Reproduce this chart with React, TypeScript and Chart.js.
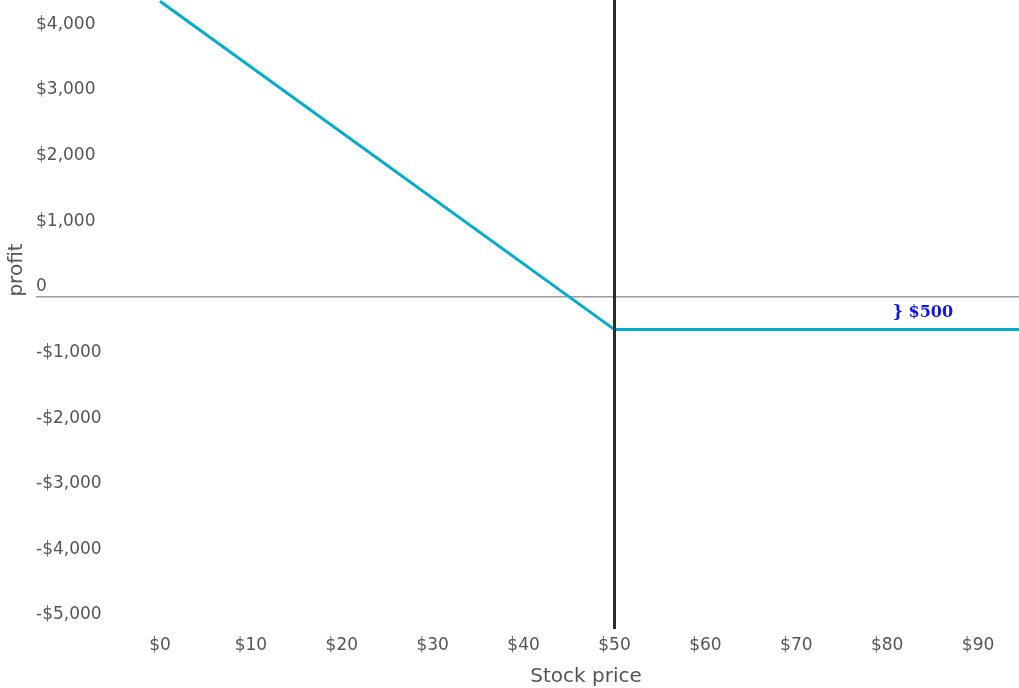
import React, { useEffect, useRef } from 'react';
import { Chart, registerables } from 'chart.js';

Chart.register(...registerables);

// ---- data ----
const STOCK_PRICES = [0, 50, 100];
const PROFIT = [4500, -500, -500];
const STRIKE = 50;
const PREMIUM = 500;
const PREMIUM_LABEL = '} $500';
const X_TICKS = [0, 10, 20, 30, 40, 50, 60, 70, 80, 90];
const Y_TICKS = [-5000, -4000, -3000, -2000, -1000, 0, 1000, 2000, 3000, 4000];
const X_TITLE = 'Stock price';
const Y_TITLE = 'profit';

// ---- scale limits ----
const X_MIN = -13.64;
const X_MAX = 94.5;
const Y_MIN = -5060;
const Y_MAX = 4520;

const TICK_FONT = { family: '"DejaVu Sans", sans-serif', size: 17 };
const TEXT_COLOR = '#555';

const fmtY = (v: number) =>
  v === 0 ? '0' : (v < 0 ? '-' : '') + '$' + Math.abs(v).toLocaleString('en-US');
const fmtX = (v: number) => '$' + v;

const overlayPlugin = {
  id: 'overlay',
  afterDraw(chart: any) {
    const { ctx, scales } = chart;
    ctx.save();
    // annotation
    ctx.font = 'bold 16px "DejaVu Serif", serif';
    ctx.fillStyle = '#1414f0';
    ctx.textAlign = 'left';
    ctx.textBaseline = 'middle';
    ctx.fillText(PREMIUM_LABEL, scales.x.getPixelForValue(80.6), scales.y.getPixelForValue(-PREMIUM / 2));
    // axis titles
    ctx.font = '20px "DejaVu Sans", sans-serif';
    ctx.fillStyle = TEXT_COLOR;
    ctx.textAlign = 'center';
    ctx.textBaseline = 'middle';
    ctx.fillText(X_TITLE, 586, 677);
    ctx.translate(17, 270);
    ctx.rotate(-Math.PI / 2);
    ctx.fillText(Y_TITLE, 0, 0);
    ctx.restore();
  },
};

export default function App() {
  const ref = useRef<HTMLCanvasElement>(null);
  useEffect(() => {
    document.body.style.margin = '0';
    const chart = new Chart(ref.current!, {
      type: 'line',
      data: {
        datasets: [
          {
            data: [
              { x: STRIKE, y: Y_MAX },
              { x: STRIKE, y: Y_MIN },
            ],
            borderColor: '#2b2b2b',
            borderWidth: 3,
            pointRadius: 0,
          },
          {
            data: STOCK_PRICES.map((x, i) => ({ x, y: PROFIT[i] })),
            borderColor: '#00adcc',
            borderWidth: 3,
            pointRadius: 0,
            tension: 0,
          },
        ],
      },
      options: {
        responsive: false,
        animation: false,
        parsing: false as any,
        layout: { padding: 0 },
        plugins: { legend: { display: false }, tooltip: { enabled: false } },
        scales: {
          x: {
            type: 'linear',
            min: X_MIN,
            max: X_MAX,
            border: { display: false },
            grid: { display: false, drawTicks: false },
            afterBuildTicks: (s: any) => {
              s.ticks = X_TICKS.map((value) => ({ value }));
            },
            afterFit: (s: any) => {
              s.height = 59;
              s.paddingLeft = 0;
              s.paddingRight = 0;
            },
            ticks: {
              autoSkip: false,
              maxRotation: 0,
              padding: 6,
              font: TICK_FONT,
              color: TEXT_COLOR,
              callback: (v: any) => fmtX(Number(v)),
            },
          },
          y: {
            type: 'linear',
            min: Y_MIN,
            max: Y_MAX,
            border: { display: false },
            grid: {
              drawTicks: false,
              color: (c: any) => (c.tick && c.tick.value === 0 ? '#9e9e9e' : 'rgba(0,0,0,0)'),
              lineWidth: 1.5,
            },
            afterBuildTicks: (s: any) => {
              s.ticks = Y_TICKS.map((value) => ({ value }));
            },
            afterFit: (s: any) => {
              s.width = 36;
              s.paddingTop = 0;
              s.paddingBottom = 0;
            },
            ticks: {
              mirror: true,
              padding: 0,
              labelOffset: -10,
              autoSkip: false,
              font: TICK_FONT,
              color: TEXT_COLOR,
              callback: (v: any) => fmtY(Number(v)),
            },
          },
        },
      },
      plugins: [overlayPlugin],
    });
    return () => chart.destroy();
  }, []);
  return (
    <div style={{ position: 'fixed', left: 0, top: 0, width: 1019, height: 688 }}>
      <canvas ref={ref} width={1019} height={688} />
    </div>
  );
}
